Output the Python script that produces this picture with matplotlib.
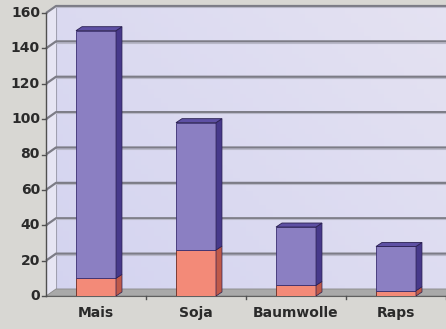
import numpy as np
import matplotlib.pyplot as plt
from matplotlib.patches import Polygon

kategorien = ['Mais', 'Soja', 'Baumwolle', 'Raps']
anteil_unten = [10, 26, 6, 3]      # orange
anteil_oben = [140, 72, 33, 25]    # lila
y_ticks = [0, 20, 40, 60, 80, 100, 120, 140, 160]

fig = plt.figure(figsize=(4.46, 3.29), dpi=100)
fig.patch.set_facecolor('#d8d7d3')

W, H = 446, 329
# axis frame in pixels (image coords: y down)
x0, x1 = 46, 446
y_bot, y_top = 296, 13
ax = fig.add_axes([x0 / W, (H - y_bot) / H, (x1 - x0) / W, (y_bot - y_top) / H])
ax.set_xlim(-0.5, 3.5)
ax.set_ylim(0, 160)
ax.axis('off')

inv = ax.transData.inverted()


def off(x, y, dx, dy):
    px, py = ax.transData.transform((x, y))
    return inv.transform((px + dx, py + dy))


def poly(pts, **kw):
    p = Polygon(pts, closed=True, clip_on=False, **kw)
    ax.add_patch(p)
    return p


# wall depth in pixels
wdx, wdy = 10, 7
xl, xr = -0.5, 3.5 + 0.2
ymax = y_ticks[-1]

# back wall with light gradient
bl = off(xl, 0, wdx, wdy)
tr = off(xr, ymax, wdx, wdy)
grad = np.linspace(0, 1, 64)
gx, gy = np.meshgrid(grad, grad)
g = (gx * 0.6 + gy * 0.4)
c0 = np.array([0.83, 0.83, 0.94])
c1 = np.array([0.90, 0.89, 0.95])
img = c0[None, None, :] * (1 - g[..., None]) + c1[None, None, :] * g[..., None]
ax.imshow(img, extent=[bl[0], tr[0], bl[1], tr[1]], origin='lower',
          aspect='auto', zorder=0, clip_on=False)
poly([bl, off(xr, 0, wdx, wdy), tr, off(xl, ymax, wdx, wdy)],
     facecolor='none', edgecolor='#a0a0b0', lw=0.8, zorder=0.5)

# side wall
poly([(xl, 0), bl, off(xl, ymax, wdx, wdy), (xl, ymax)],
     facecolor='#e6e5f3', edgecolor='none', zorder=0.6)

# floor
poly([(xl, 0), (xr, 0), off(xr, 0, wdx, wdy), bl],
     facecolor='#a9a9a9', edgecolor='#8a8a8a', lw=0.6, zorder=0.7)

# gridlines on side and back wall
for v in y_ticks[1:]:
    a = (xl, v)
    b = off(xl, v, wdx, wdy)
    c = off(xr, v, wdx, wdy)
    ax.plot([a[0], b[0], c[0]], [a[1], b[1], c[1]], color='#7c7c86',
            lw=1.6, zorder=1, clip_on=False, solid_capstyle='butt')
    ax.plot([b[0], c[0]], [b[1] - 0.7, c[1] - 0.7], color='#b8b8c8',
            lw=0.8, zorder=1, clip_on=False)

# axes lines and ticks
ax.plot([xl, xl], [0, ymax], color='#505050', lw=1.0, zorder=2, clip_on=False)
ax.plot([xl, xr], [0, 0], color='#606060', lw=0.8, zorder=2, clip_on=False)
for v in y_ticks:
    t = off(xl, v, -4, 0)
    ax.plot([t[0], xl], [v, v], color='#505050', lw=1.0, zorder=2, clip_on=False)
    ax.text(t[0] - 0.02, v, str(v), ha='right', va='center', fontsize=10,
            fontweight='bold', color='#2a2a2a', family='DejaVu Sans')
for i in range(len(kategorien)):
    t = off(i + 0.5, 0, 0, -3)
    ax.plot([i + 0.5, i + 0.5], [0, t[1]], color='#505050', lw=1.0,
            zorder=2, clip_on=False)

# bars
bw = 0.4
bdx, bdy = 6, 4
col_o, col_os, col_ot = '#f38a78', '#c05a4a', '#d9705f'
col_p, col_ps, col_pt = '#8b7fc2', '#47398a', '#5e50a4'
x = np.arange(len(kategorien))
ax.bar(x, anteil_unten, bw, color=col_o, edgecolor='#6a2a20', lw=0.6, zorder=3)
ax.bar(x, anteil_oben, bw, bottom=anteil_unten, color=col_p,
       edgecolor='#3a2e70', lw=0.6, zorder=3)
for i in range(len(kategorien)):
    l, r = i - bw / 2, i + bw / 2
    for lo, hi, cs, ct in [(0, anteil_unten[i], col_os, col_ot),
                           (anteil_unten[i], anteil_unten[i] + anteil_oben[i],
                            col_ps, col_pt)]:
        poly([(r, lo), off(r, lo, bdx, bdy), off(r, hi, bdx, bdy), (r, hi)],
             facecolor=cs, edgecolor='#2a2050', lw=0.5, zorder=3)
    top = anteil_unten[i] + anteil_oben[i]
    poly([(l, top), (r, top), off(r, top, bdx, bdy), off(l, top, bdx, bdy)],
         facecolor=col_pt, edgecolor='#2a2050', lw=0.6, zorder=3)
    ax.text(i, -9.8, kategorien[i], ha='center', va='center', fontsize=10,
            fontweight='bold', color='#2a2a2a', family='DejaVu Sans')

fig.savefig('out.png', dpi=100, facecolor=fig.get_facecolor())
